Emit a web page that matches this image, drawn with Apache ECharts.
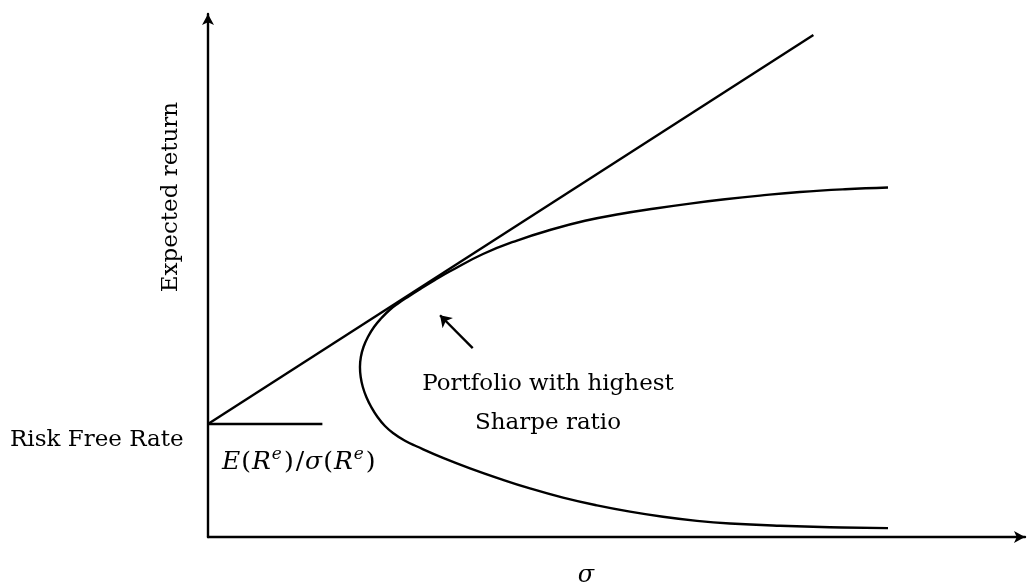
<!DOCTYPE html>
<html>
<head>
<meta charset="utf-8">
<script src="https://cdn.jsdelivr.net/npm/echarts@6/dist/echarts.min.js"></script>
<style>
html,body{margin:0;padding:0;background:#ffffff;}
#c{width:1032px;height:584px;}
</style>
</head>
<body>
<div id="c"></div>
<script>
// Efficient frontier, ordered from the lower end, through the vertex, to the upper end
const frontierSigma = [83.23, 76.13, 70.01, 63.89, 59.85, 55.69, 51.65, 47.61, 43.45, 39.41,
                       35.74, 32.07, 28.76, 25.58, 24.11, 22.64, 21.66, 20.75, 19.98, 19.38,
                       18.95, 18.69, 18.60,
                       18.71, 19.03, 19.57, 20.32, 21.24, 22.22, 23.26, 24.60, 25.95, 27.78,
                       29.62, 33.66, 37.82, 41.86, 46.14, 50.43, 54.71, 59.00, 63.28, 67.56,
                       72.44, 77.97, 83.23];
const frontierReturn = [1.70, 1.86, 2.14, 2.58, 3.08, 3.86, 4.84, 6.04, 7.53, 9.29,
                        11.13, 13.14, 15.14, 17.30, 18.39, 19.89, 21.22, 22.94, 24.86, 26.77,
                        28.68, 30.59, 32.50,
                        34.42, 36.33, 38.24, 40.15, 41.87, 43.40, 44.65, 46.04, 47.38, 49.14,
                        50.80, 54.11, 56.69, 58.70, 60.46, 61.76, 62.81, 63.75, 64.57, 65.28,
                        65.97, 66.50, 66.83];
// Capital market line
const cmlSigma = [0, 74.1];
const cmlReturn = [21.6, 96.0];
// Risk free rate segment
const rfSigma = [0, 14.0];
const rfReturn = [21.6, 21.6];
// Annotation arrow (tail -> head)
const arrowSigma = [32.4, 28.4];
const arrowReturn = [36.1, 42.4];
// Texts
const yName = 'Expected return';
const xName = 'σ';
const rfLabel = 'Risk Free Rate';
const noteLines = ['Portfolio with highest', 'Sharpe ratio'];

const pairs = (xs, ys) => xs.map((x, i) => [x, ys[i]]);

const serif = '"DejaVu Serif", "Liberation Serif", serif';
const black = '#000000';
const lw = 2.4;

const axisCommon = {
  type: 'value', min: 0, max: 100,
  axisLine: { show: true, lineStyle: { color: black, width: lw }, symbol: ['none', 'arrow'], symbolSize: [9, 11] },
  axisTick: { show: false }, axisLabel: { show: false }, splitLine: { show: false }
};

const chart = echarts.init(document.getElementById('c'), null, { renderer: 'canvas' });
chart.setOption({
  animation: false,
  backgroundColor: '#ffffff',
  grid: { left: 208, right: 7, top: 14, bottom: 47 },
  xAxis: Object.assign({}, axisCommon),
  yAxis: Object.assign({}, axisCommon),
  series: [
    { type: 'line', data: pairs(frontierSigma, frontierReturn), smooth: 0.45, symbol: 'none',
      lineStyle: { color: black, width: lw }, silent: true },
    { type: 'line', data: pairs(cmlSigma, cmlReturn), symbol: 'none',
      lineStyle: { color: black, width: lw }, silent: true },
    { type: 'line', data: pairs(rfSigma, rfReturn), symbol: 'none',
      lineStyle: { color: black, width: lw }, silent: true },
    { type: 'lines', coordinateSystem: 'cartesian2d',
      data: [{ coords: pairs(arrowSigma, arrowReturn) }],
      symbol: ['none', 'arrow'], symbolSize: [9, 11],
      lineStyle: { color: black, width: lw, opacity: 1 }, silent: true }
  ],
  graphic: [
    { type: 'text', x: 10, y: 440,
      style: { text: rfLabel, font: '23px ' + serif, fill: black, align: 'left', verticalAlign: 'middle' } },
    { type: 'text', x: 171, y: 197, rotation: Math.PI / 2,
      style: { text: yName, font: '23px ' + serif, fill: black, align: 'center', verticalAlign: 'middle' } },
    { type: 'text', x: 586, y: 576,
      style: { text: xName, font: 'italic 24px ' + serif, fill: black, align: 'center', verticalAlign: 'middle' } },
    { type: 'text', x: 548, y: 384,
      style: { text: noteLines[0], font: '23px ' + serif, fill: black, align: 'center', verticalAlign: 'middle' } },
    { type: 'text', x: 548, y: 423,
      style: { text: noteLines[1], font: '23px ' + serif, fill: black, align: 'center', verticalAlign: 'middle' } },
    { type: 'text', x: 222, y: 462,
      style: {
        text: '{i|E}{n|(}{i|R}{s|e}{n|)}{n|/}{i|σ}{n|(}{i|R}{s|e}{n|)}',
        align: 'left', verticalAlign: 'middle', fill: black,
        rich: {
          i: { fontFamily: serif, fontStyle: 'italic', fontSize: 25, lineHeight: 31, fill: black, verticalAlign: 'middle' },
          n: { fontFamily: serif, fontSize: 25, lineHeight: 31, fill: black, verticalAlign: 'middle', padding: [0, 1, 0, 1] },
          s: { fontFamily: serif, fontStyle: 'italic', fontSize: 17, lineHeight: 20, fill: black, verticalAlign: 'top', padding: [0, 1, 0, 1] }
        }
      } }
  ]
});
</script>
</body>
</html>
